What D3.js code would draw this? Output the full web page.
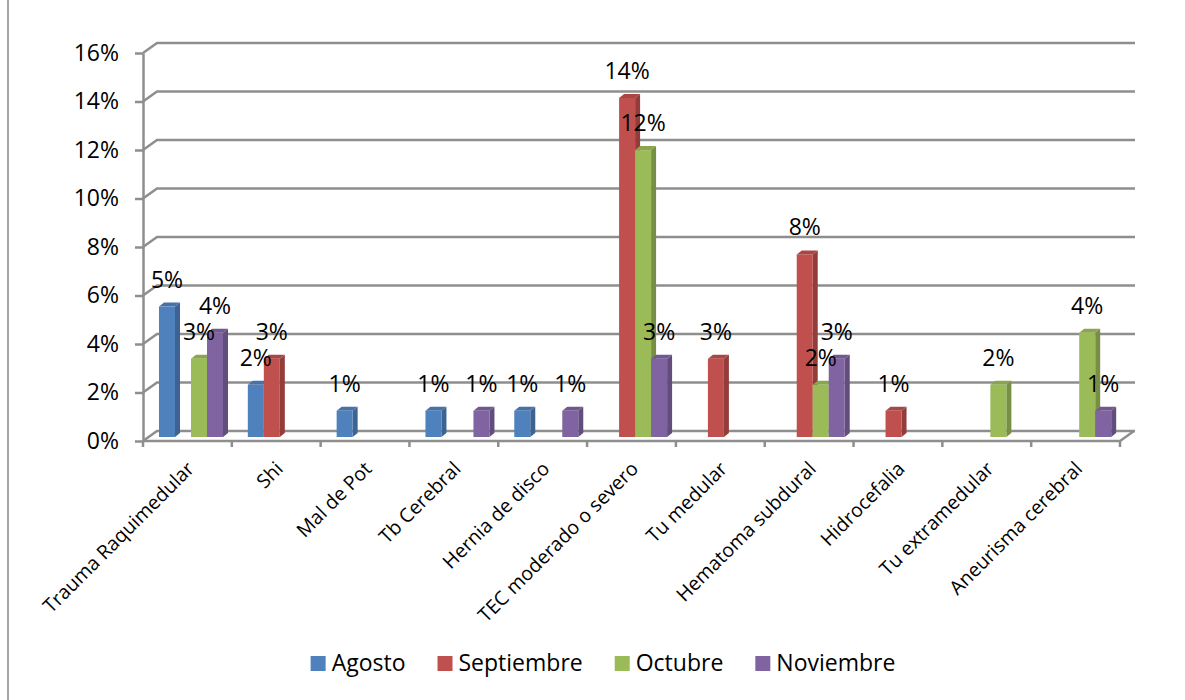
<!DOCTYPE html>
<html>
<head>
<meta charset="utf-8">
<script src="https://cdn.jsdelivr.net/npm/d3@7"></script>
<style>
  body { margin: 0; background: #fff; }
  svg { display: block; font-family: "Open Sans", sans-serif; }
</style>
</head>
<body>
<div id="chart"></div>
<script>
// categories and the four monthly series (percent of cases)
var categories = ["Trauma Raquimedular", "Shi", "Mal de Pot", "Tb Cerebral", "Hernia de disco",
  "TEC moderado o severo", "Tu medular", "Hematoma subdural", "Hidrocefalia",
  "Tu extramedular", "Aneurisma cerebral"];
var months = ["Agosto", "Septiembre", "Octubre", "Noviembre"];
var agosto     = [5.38, 2.15, 1.08, 1.08, 1.08, 0, 0, 0, 0, 0, 0];
var septiembre = [0, 3.23, 0, 0, 0, 13.98, 3.23, 7.53, 1.08, 0, 0];
var octubre    = [3.23, 0, 0, 0, 0, 11.83, 0, 2.15, 0, 2.15, 4.3];
var noviembre  = [4.3, 0, 0, 1.08, 1.08, 3.23, 0, 3.23, 0, 0, 1.08];
var yTicks = [0, 2, 4, 6, 8, 10, 12, 14, 16];
var colors = ["#4F81BD", "#C0504D", "#9BBB59", "#8064A2"];

var seriesValues = [agosto, septiembre, octubre, noviembre];

var width = 1185, height = 700;
var left = 143, right = 1120;
var back = { dx: 14, dy: -10 };   // offset of the back wall
var depth = { dx: 5, dy: -4 };    // bar thickness

var svg = d3.select("#chart").append("svg")
    .attr("width", width)
    .attr("height", height);

// outer frame (only left edge visible in the picture)
svg.append("line")
    .attr("x1", 8).attr("x2", 8).attr("y1", 0).attr("y2", height)
    .attr("stroke", "#a6a6a6").attr("stroke-width", 2);

var x0 = d3.scaleBand().domain(categories).range([left, right]).padding(0);
var x1 = d3.scaleBand().domain(months).range([16, 80]).padding(0);
var yFront = d3.scaleLinear().domain([0, 16]).range([441, 53]);
var yBar = d3.scaleLinear().domain([0, 16]).range([437, 49]);

var grid = svg.append("g").attr("stroke", "#8e8e8e").attr("stroke-width", 2.5).attr("fill", "none");

// back wall gridlines with the little slant at the left side wall
yTicks.forEach(function(t) {
  var yf = yFront(t);
  grid.append("path")
      .attr("d", "M" + left + "," + yf + "L" + (left + back.dx) + "," + (yf + back.dy) +
                 "L" + (right + back.dx + 1) + "," + (yf + back.dy));
});

// floor front edge + right slant
grid.append("path")
    .attr("d", "M" + left + "," + yFront(0) + "L" + right + "," + yFront(0) +
               "L" + (right + back.dx) + "," + (yFront(0) + back.dy));

// category boundary ticks
var bounds = d3.range(categories.length + 1).map(function(i) { return left + i * x0.step(); });
grid.selectAll("line.ctick")
    .data(bounds)
    .enter().append("line")
    .attr("class", "ctick")
    .attr("x1", function(d) { return d; }).attr("x2", function(d) { return d; })
    .attr("y1", yFront(0)).attr("y2", yFront(0) + 6);

// y axis on the front plane
var yAxis = d3.axisLeft(yFront)
    .tickValues(yTicks)
    .tickSize(8)
    .tickSizeOuter(0)
    .tickPadding(16)
    .tickFormat(function(d) { return d + "%"; });

var gy = svg.append("g")
    .attr("transform", "translate(" + left + ",0)")
    .call(yAxis);
gy.select(".domain").attr("stroke", "#8e8e8e").attr("stroke-width", 2.5);
gy.selectAll(".tick line").attr("stroke", "#8e8e8e").attr("stroke-width", 2.5);
gy.selectAll(".tick text")
    .attr("font-family", "Open Sans")
    .attr("font-size", 23)
    .attr("fill", "#000");

// bars
var bars = [];
categories.forEach(function(c, i) {
  months.forEach(function(m, j) {
    var v = seriesValues[j][i];
    if (v > 0) bars.push({ cat: c, month: m, value: v, color: colors[j] });
  });
});

var barG = svg.append("g");
var bw = x1.bandwidth();

bars.forEach(function(d) {
  var xl = x0(d.cat) + x1(d.month);
  var xr = xl + bw;
  var yt = yBar(d.value);
  var yb = yBar(0);
  var c = d3.color(d.color);
  var g = barG.append("g");
  // side face
  g.append("path")
      .attr("d", "M" + xr + "," + yb + "L" + (xr + depth.dx) + "," + (yb + depth.dy) +
                 "L" + (xr + depth.dx) + "," + (yt + depth.dy) + "L" + xr + "," + yt + "Z")
      .attr("fill", c.darker(0.75));
  // top face
  g.append("path")
      .attr("d", "M" + xl + "," + yt + "L" + (xl + depth.dx) + "," + (yt + depth.dy) +
                 "L" + (xr + depth.dx) + "," + (yt + depth.dy) + "L" + xr + "," + yt + "Z")
      .attr("fill", c.darker(0.35));
  // front face
  g.append("rect")
      .attr("x", xl).attr("y", yt)
      .attr("width", bw).attr("height", yb - yt)
      .attr("fill", d.color);
});

// data labels
var pct = d3.format(".0%");
svg.append("g").selectAll("text")
    .data(bars)
    .enter().append("text")
    .attr("x", function(d) { return x0(d.cat) + x1(d.month) + bw / 2; })
    .attr("y", function(d) { return yBar(d.value) - 19; })
    .attr("text-anchor", "middle")
    .attr("font-size", 23)
    .attr("fill", "#000")
    .text(function(d) { return pct(d.value / 100); });

// category labels, rotated
svg.append("g").selectAll("text")
    .data(categories)
    .enter().append("text")
    .attr("transform", function(d) {
      return "translate(" + (x0(d) + x0.bandwidth() / 2 + 8) + ",470) rotate(-45)";
    })
    .attr("text-anchor", "end")
    .attr("font-size", 19.5)
    .attr("fill", "#000")
    .text(function(d) { return d; });

// legend
var legend = svg.append("g");
var items = legend.selectAll("g")
    .data(months)
    .enter().append("g");
items.append("rect")
    .attr("width", 15).attr("height", 15)
    .attr("y", 656)
    .attr("fill", function(d, i) { return colors[i]; });
items.append("text")
    .attr("x", 21)
    .attr("y", 671)
    .attr("font-size", 23)
    .attr("fill", "#000")
    .text(function(d) { return d; });

var pos = 0, gap = 32;
var offsets = [];
items.each(function() {
  offsets.push(pos);
  pos += this.getBBox().width + gap;
});
var total = pos - gap;
var start = 603 - total / 2;
items.attr("transform", function(d, i) { return "translate(" + (start + offsets[i]) + ",0)"; });
</script>
</body>
</html>
